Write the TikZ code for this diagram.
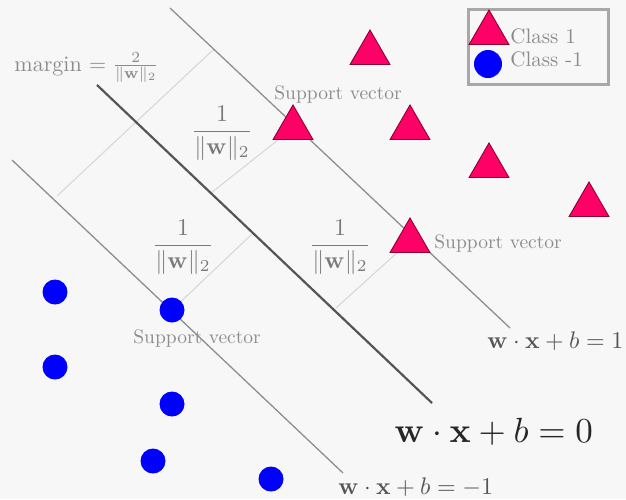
\documentclass[tikz,border=0pt]{standalone}
\usetikzlibrary{shapes.geometric}
\definecolor{bgc}{HTML}{F7F7F7}
\definecolor{tri}{HTML}{FF0066}
\definecolor{trib}{HTML}{8C0030}
\definecolor{mainln}{HTML}{555555}
\definecolor{margln}{HTML}{8E8E8E}
\definecolor{perpln}{HTML}{D8D8D8}
\definecolor{lblc}{HTML}{8C8C8C}
\definecolor{fracc}{HTML}{7A7A7A}
\definecolor{eqc}{HTML}{555555}
\definecolor{legb}{HTML}{A8A8A8}
\begin{document}
\begin{tikzpicture}[x=1pt,y=-1pt,
  trinode/.style={regular polygon, regular polygon sides=3, minimum size=46pt, inner sep=0pt, fill=tri, draw=trib, line width=0.9pt},
  dotnode/.style={circle, fill=blue, minimum size=25pt, inner sep=0pt},
  svlabel/.style={inner sep=0pt, text=lblc, scale=1.95},
  fraclabel/.style={inner sep=0pt, text=fracc, scale=2.4},
  eqlabel/.style={inner sep=0pt, text=eqc, scale=2.4},
  mainlabel/.style={inner sep=0pt, text=black!85, scale=3.5},
  leglabel/.style={inner sep=0pt, text=lblc, scale=2.1},
  mainline/.style={draw=mainln, line width=2.2pt},
  marginline/.style={draw=margln, line width=1.3pt},
  perpline/.style={draw=perpln, line width=1.1pt}]
\fill[bgc] (0,0) rectangle (626,499);
\useasboundingbox (0,0) rectangle (626,499);

% line end points
\coordinate (upA) at (170,8);
\coordinate (upB) at (510,328);
\coordinate (mnA) at (97,85);
\coordinate (mnB) at (432,403);
\coordinate (loA) at (12,160);
\coordinate (loB) at (343,473);
% perpendicular helpers
\coordinate (p1a) at (57,196);
\coordinate (p1b) at (214,49);
\coordinate (p2b) at (211,193);
\coordinate (p3b) at (252,234);
\coordinate (p4a) at (336,308);

% data points (positions)
\coordinate (tsv1) at (293,128);
\coordinate (tsv2) at (410,241);
\coordinate (csv) at (172,310);

% perpendicular light lines
\draw[perpline] (p1a) -- (p1b);
\draw[perpline] (tsv1) -- (p2b);
\draw[perpline] (csv) -- (p3b);
\draw[perpline] (p4a) -- (tsv2);

% margins and hyperplane
\draw[marginline] (upA) -- (upB);
\draw[marginline] (loA) -- (loB);
\draw[mainline] (mnA) -- (mnB);

% labels
\node[svlabel, anchor=base west] (sl1) at (274,99) {Support vector};
\node[svlabel, anchor=base west] (sl2) at (434,248) {Support vector};
\node[svlabel, anchor=base west] (sl3) at (133,343) {Support vector};
\node[svlabel, anchor=base west, scale=1.13] (mg) at (14,71) {margin $= \frac{2}{\|\mathbf{w}\|_2}$};
\node[fraclabel] (f1) at (222,133) {$\displaystyle\frac{1}{\|\mathbf{w}\|_2}$};
\node[fraclabel] (f2) at (183,247) {$\displaystyle\frac{1}{\|\mathbf{w}\|_2}$};
\node[fraclabel] (f3) at (340,247) {$\displaystyle\frac{1}{\|\mathbf{w}\|_2}$};
\node[eqlabel, anchor=base west] (eq1) at (487,348) {$\mathbf{w}\cdot\mathbf{x}+b=1$};
\node[mainlabel, anchor=base west] (eq0) at (394,442) {$\mathbf{w}\cdot\mathbf{x}+b=0$};
\node[eqlabel, anchor=base west] (eqm) at (338,494) {$\mathbf{w}\cdot\mathbf{x}+b=-1$};

% class 1 triangles
\node[trinode] (t1) at (370,53) {};
\node[trinode] (t2) at (410,128) {};
\node[trinode] (t3) at (489,166) {};
\node[trinode] (t4) at (589,205) {};
\node[trinode] (t5) at (tsv1) {};
\node[trinode] (t6) at (tsv2) {};

% class -1 circles
\node[dotnode] (c1) at (55,292) {};
\node[dotnode] (c2) at (55,367) {};
\node[dotnode] (c3) at (csv) {};
\node[dotnode] (c4) at (172,404) {};
\node[dotnode] (c5) at (153,461) {};
\node[dotnode] (c6) at (271,479) {};

% legend
\draw[legb, line width=3pt] (468,9) rectangle (608,84);
\node[trinode] (lt) at (489,33) {};
\node[dotnode, minimum size=28pt] (lc) at (488,64) {};
\node[leglabel, anchor=base west] (lt1) at (510,43) {Class 1};
\node[leglabel, anchor=base west] (lt2) at (510,66) {Class -1};
\end{tikzpicture}
\end{document}
